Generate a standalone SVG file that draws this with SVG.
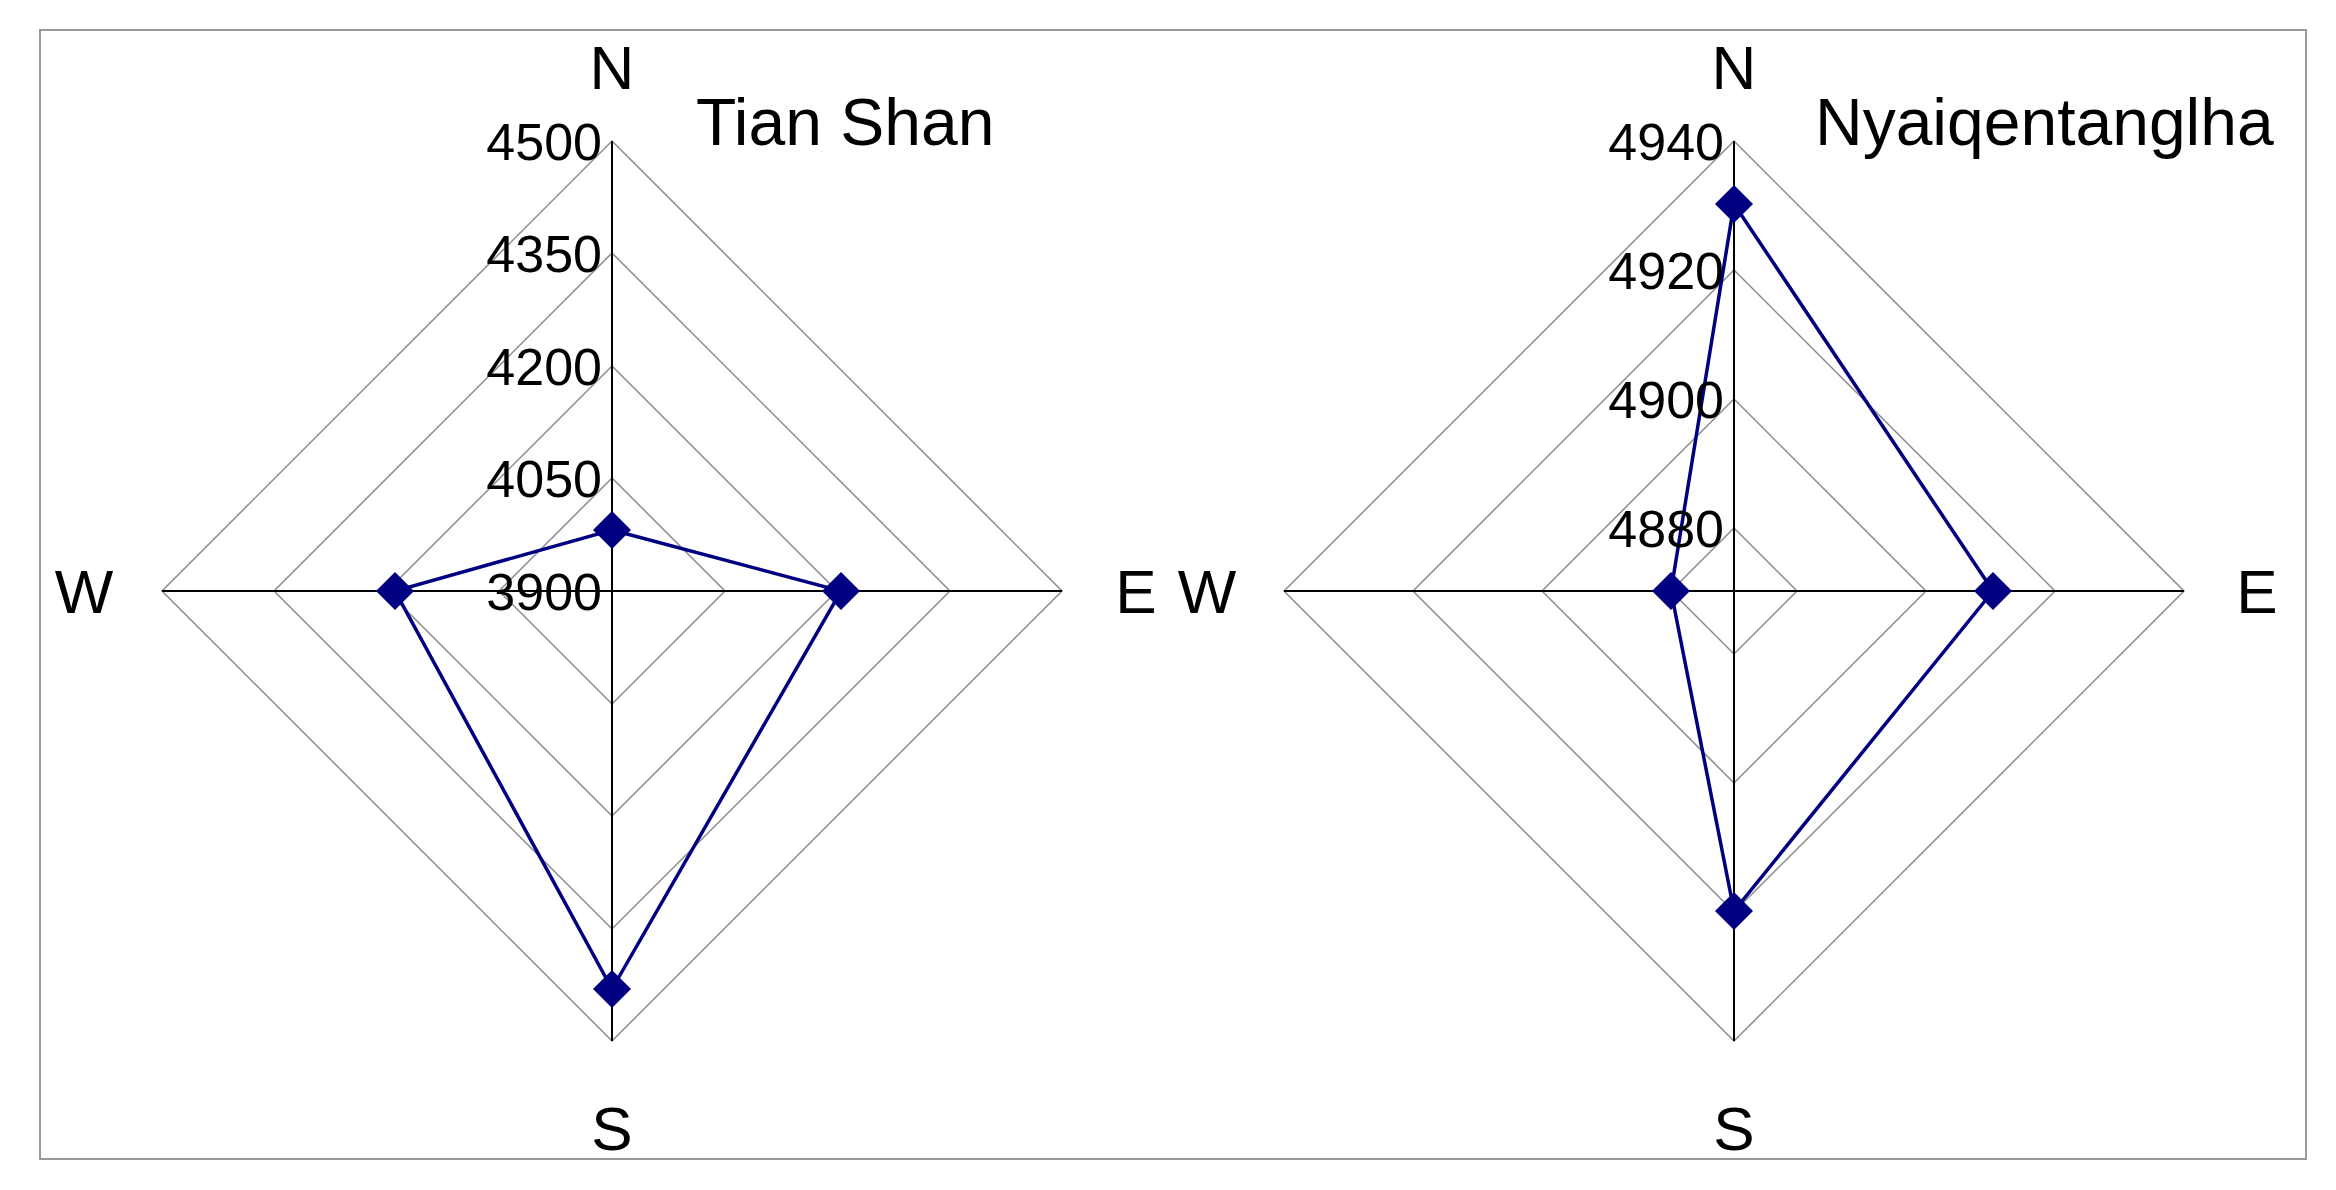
<svg xmlns="http://www.w3.org/2000/svg" width="2336" height="1190" viewBox="0 0 2336 1190">
<style>
text{font-family:"Liberation Sans",Arial,sans-serif;fill:#000}
.ring{fill:none;stroke:#8c8c8c;stroke-width:1.5}
.axis{stroke:#000;stroke-width:2}
.data{fill:none;stroke:#000080;stroke-width:3.5}
.mk{fill:#000080}
.dir{font-size:62px;text-anchor:middle}
.num{font-size:52px;text-anchor:end}
.title{font-size:66px}
</style>
<defs><path id="dm" d="M0,-19L19,0L0,19L-19,0Z" class="mk"/></defs>
<rect x="40" y="30" width="2266" height="1129" fill="#fff" stroke="#999" stroke-width="2"/>
<g id="tianshan">
<g transform="translate(612,591)">
<path class="ring" d="M0,-113L113,0L0,113L-113,0Z M0,-225L225,0L0,225L-225,0Z M0,-338L338,0L0,338L-338,0Z M0,-450L450,0L0,450L-450,0Z"/>
<path class="axis" d="M0,-450V450M-450,0H450"/>
<path class="data" d="M0,-61L229,0L0,398L-217,0Z"/>
<use href="#dm" x="0" y="-61"/><use href="#dm" x="229" y="0"/><use href="#dm" x="0" y="398"/><use href="#dm" x="-217" y="0"/>
</g>
<text class="dir" x="612" y="89">N</text>
<text class="dir" x="612" y="1150">S</text>
<text class="dir" x="84" y="613">W</text>
<text class="dir" x="1136" y="613">E</text>
<text class="num" x="602" y="160">4500</text>
<text class="num" x="602" y="272">4350</text>
<text class="num" x="602" y="385">4200</text>
<text class="num" x="602" y="497">4050</text>
<text class="num" x="602" y="610">3900</text>
<text class="title" x="696" y="145">Tian Shan</text>
</g>
<g id="nyaiqentanglha">
<g transform="translate(1734,591)">
<path class="ring" d="M0,-63L63,0L0,63L-63,0Z M0,-192L192,0L0,192L-192,0Z M0,-321L321,0L0,321L-321,0Z M0,-450L450,0L0,450L-450,0Z"/>
<path class="axis" d="M0,-450V450M-450,0H450"/>
<path class="data" d="M0,-387L259,0L0,320L-63,0Z"/>
<use href="#dm" x="0" y="-387"/><use href="#dm" x="259" y="0"/><use href="#dm" x="0" y="320"/><use href="#dm" x="-63" y="0"/>
</g>
<text class="dir" x="1734" y="89">N</text>
<text class="dir" x="1734" y="1150">S</text>
<text class="dir" x="1207" y="613">W</text>
<text class="dir" x="2257" y="613">E</text>
<text class="num" x="1724" y="160">4940</text>
<text class="num" x="1724" y="289">4920</text>
<text class="num" x="1724" y="418">4900</text>
<text class="num" x="1724" y="547">4880</text>
<text class="title" x="1815" y="145">Nyaiqentanglha</text>
</g>
</svg>
